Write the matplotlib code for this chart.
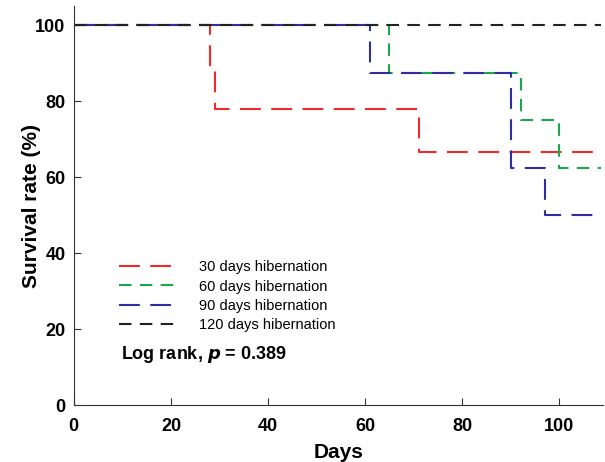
import matplotlib
matplotlib.use("Agg")
import matplotlib.pyplot as plt

plt.rcParams["font.family"] = ["Liberation Sans", "DejaVu Sans"]

# Kaplan-Meier step curves
days_30 = [0, 28, 29, 71, 108.5]
surv_30 = [100, 88.9, 77.8, 66.7, 66.7]

days_60 = [0, 65, 92, 100, 108.5]
surv_60 = [100, 87.5, 75, 62.5, 62.5]

days_90 = [0, 61, 90, 97, 108.5]
surv_90 = [100, 87.5, 62.5, 50, 50]

days_120 = [0, 108.5]
surv_120 = [100, 100]

labels = ["30 days hibernation", "60 days hibernation",
          "90 days hibernation", "120 days hibernation"]
colors = ["#f02a2a", "#1aa64a", "#2e2e9e", "#222222"]
dashes = [(10, 5), (6, 4), (10, 5), (6, 4)]

fig = plt.figure(figsize=(6.05, 4.62), dpi=100)
ax = fig.add_axes([0.122, 0.123, 0.875, 0.864])

series = [(days_30, surv_30), (days_60, surv_60),
          (days_90, surv_90), (days_120, surv_120)]
# black drawn last so it sits on top of the 100% line
handles = []
for i, (x, y) in enumerate(series):
    ln, = ax.step(x, y, where="post", color=colors[i], lw=1.5,
                  dashes=dashes[i], label=labels[i])
    handles.append(ln)

ax.set_xlim(0, 109)
ax.set_ylim(0, 105)
ax.set_xticks([0, 20, 40, 60, 80, 100])
ax.set_yticks([0, 20, 40, 60, 80, 100])
ax.spines["top"].set_visible(False)
ax.spines["right"].set_visible(False)
for s in ["left", "bottom"]:
    ax.spines[s].set_color("#333333")
ax.tick_params(direction="in", length=5, color="#333333")
ax.tick_params(axis="x", pad=9)
ax.tick_params(axis="y", pad=6)
for t in ax.get_xticklabels() + ax.get_yticklabels():
    t.set_fontweight("bold")
    t.set_fontsize(13)
ax.set_xlabel("Days", fontsize=15, fontweight="bold", labelpad=6)
ax.set_ylabel("Survival rate (%)", fontsize=15, fontweight="bold", labelpad=-4)

leg = ax.legend(handles, labels,
                loc="lower left", bbox_to_anchor=(0.06, 0.151),
                frameon=False, fontsize=10.5, handlelength=4.0,
                handletextpad=1.5, labelspacing=0.35)

ax.text(0.09, 0.154, "Log rank, $\\boldsymbol{p}$ = 0.389",
        transform=ax.transAxes, fontsize=13, fontweight="bold",
        va="top")

fig.savefig("out.png", dpi=100)
